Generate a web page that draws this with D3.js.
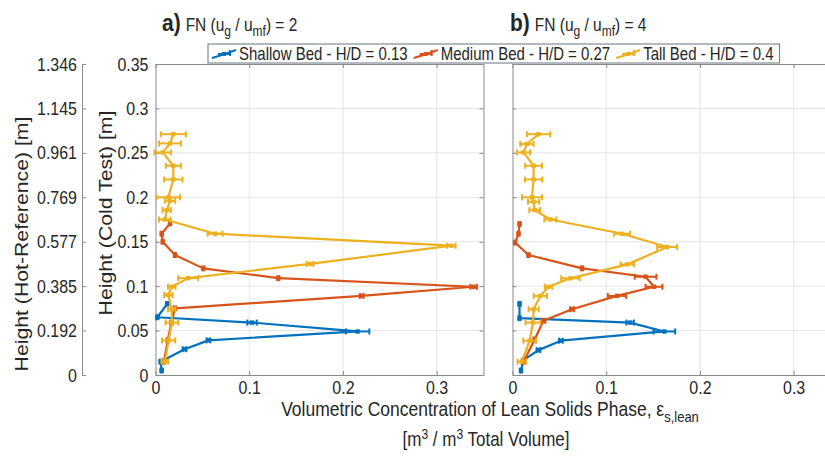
<!DOCTYPE html>
<html><head><meta charset="utf-8">
<script src="https://cdn.jsdelivr.net/npm/d3@7"></script>
<style>body{margin:0;background:#fff}svg{display:block;font-family:"Liberation Sans",Arial,sans-serif}</style>
</head><body><svg id="c" width="825" height="459"></svg>
<script>
// ---- data ----
const coldTicks = [0, 0.05, 0.1, 0.15, 0.2, 0.25, 0.3, 0.35];
const coldTickLabels = ["0", "0.05", "0.1", "0.15", "0.2", "0.25", "0.3", "0.35"];
const hotTickLabels = ["0", "0.192", "0.385", "0.577", "0.769", "0.961", "1.145", "1.346"];
const xTicks = [0, 0.1, 0.2, 0.3];
const xTickLabels = ["0", "0.1", "0.2", "0.3"];
const seriesNames = ["Shallow Bed - H/D = 0.13", "Medium Bed - H/D = 0.27", "Tall Bed - H/D = 0.4"];
const seriesColors = ["#0072BD", "#D95319", "#EDB120"];

// Panel a) FN = 2
const shallowA_h = [0.080, 0.065, 0.059, 0.049, 0.039, 0.029, 0.015, 0.005];
const shallowA_x = [0.0125, 0.002, 0.103, 0.2157, 0.0565, 0.031, 0.0055, 0.0065];
const shallowA_e = [0.001, 0.001, 0.005, 0.0125, 0.002, 0.002, 0.001, 0.001];
const mediumA_h = [0.1706, 0.159, 0.150, 0.135, 0.120, 0.109, 0.0993, 0.089, 0.075, 0.059, 0.039, 0.015];
const mediumA_x = [0.0155, 0.0066, 0.0077, 0.0208, 0.051, 0.131, 0.3395, 0.220, 0.0208, 0.017, 0.013, 0.009];
const mediumA_e = [0.001, 0.001, 0.001, 0.001, 0.001, 0.001, 0.0035, 0.002, 0.001, 0.001, 0.001, 0.001];
const tallA_h = [0.271, 0.2606, 0.2505, 0.2355, 0.220, 0.200, 0.196, 0.1856, 0.175, 0.159, 0.1455, 0.125, 0.109, 0.0993, 0.090, 0.074, 0.059, 0.039, 0.015];
const tallA_x = [0.019, 0.0155, 0.0077, 0.019, 0.019, 0.0137, 0.0155, 0.012, 0.010, 0.0636, 0.3157, 0.165, 0.035, 0.0173, 0.0137, 0.0173, 0.0175, 0.014, 0.010];
const tallA_e = [0.0134, 0.0116, 0.0089, 0.008, 0.0098, 0.0125, 0.0055, 0.0045, 0.0062, 0.008, 0.0045, 0.0036, 0.0107, 0.004, 0.0045, 0.004, 0.0068, 0.0071, 0.0036];

// Panel b) FN = 4
const shallowB_h = [0.080, 0.064, 0.059, 0.049, 0.0386, 0.028, 0.017, 0.005];
const shallowB_x = [0.0075, 0.0075, 0.1255, 0.162, 0.0516, 0.0277, 0.012, 0.009];
const shallowB_e = [0.001, 0.001, 0.004, 0.0116, 0.002, 0.002, 0.001, 0.001];
const mediumB_h = [0.170, 0.159, 0.149, 0.135, 0.120, 0.1106, 0.0993, 0.089, 0.074, 0.061, 0.040, 0.015];
const mediumB_x = [0.0075, 0.0064, 0.0029, 0.0171, 0.0743, 0.142, 0.151, 0.1115, 0.0635, 0.033, 0.0236, 0.0118];
const mediumB_e = [0.001, 0.001, 0.001, 0.001, 0.001, 0.0116, 0.009, 0.0098, 0.002, 0.002, 0.001, 0.002];
const tallB_h = [0.271, 0.260, 0.2505, 0.2355, 0.220, 0.200, 0.195, 0.1856, 0.175, 0.159, 0.144, 0.1245, 0.1088, 0.0993, 0.089, 0.074, 0.059, 0.0386, 0.015];
const tallB_x = [0.0278, 0.0154, 0.0118, 0.0225, 0.0225, 0.0208, 0.0225, 0.0236, 0.0404, 0.117, 0.165, 0.1225, 0.0618, 0.0385, 0.0297, 0.0226, 0.0219, 0.0183, 0.010];
const tallB_e = [0.0125, 0.0071, 0.0071, 0.009, 0.0093, 0.0107, 0.006, 0.0057, 0.0064, 0.0086, 0.0107, 0.0071, 0.0098, 0.004, 0.0071, 0.0054, 0.008, 0.0068, 0.0046];

// ---- layout ----
const svg = d3.select("#c");
const axisCol = "#8a8a8a", textCol = "#262626", gridCol = "#e6e6e6";
const STRETCH = 1.18; // the reference text is slightly taller than wide
const y = d3.scaleLinear().domain([0, 0.35]).range([375, 64]);
const panels = [
  {x: d3.scaleLinear().domain([0, 0.35]).range([155.5, 483.5]), labels: true,
   series: [[shallowA_h, shallowA_x, shallowA_e], [mediumA_h, mediumA_x, mediumA_e], [tallA_h, tallA_x, tallA_e]]},
  {x: d3.scaleLinear().domain([0, 0.35]).range([512.5, 840.5]), labels: false,
   series: [[shallowB_h, shallowB_x, shallowB_e], [mediumB_h, mediumB_x, mediumB_e], [tallB_h, tallB_x, tallB_e]]}
];

function styleAxis(g) {
  g.selectAll("path,line").attr("stroke", axisCol).attr("stroke-width", 1);
  g.selectAll("text").attr("fill", textCol).attr("font-size", 16)
    .attr("font-family", "Liberation Sans, Arial, sans-serif")
    .attr("transform", `scale(1,${STRETCH})`);
}
// a group positioned at (x,y) with vertical stretch, optional rotation
function textGroup(x, yy, rot) {
  return svg.append("g").attr("transform", `translate(${x},${yy}) scale(1,${STRETCH})` + (rot ? ` rotate(${rot})` : ""));
}

panels.forEach(p => {
  const [x0, x1] = p.x.range();
  const grid = svg.append("g");
  grid.selectAll(".gx").data(xTicks.slice(1)).join("line")
    .attr("x1", d => p.x(d)).attr("x2", d => p.x(d)).attr("y1", y(0)).attr("y2", y(0.35))
    .attr("stroke", gridCol).attr("stroke-width", 1);
  grid.selectAll(".gy").data(coldTicks.slice(1, -1)).join("line")
    .attr("x1", x0).attr("x2", x1).attr("y1", d => y(d)).attr("y2", d => y(d))
    .attr("stroke", gridCol).attr("stroke-width", 1);

  svg.append("g").attr("transform", `translate(${x0},0)`)
    .call(d3.axisLeft(y).tickValues(coldTicks).tickSizeInner(-4).tickSizeOuter(0).tickPadding(7)
      .tickFormat((d, i) => p.labels ? coldTickLabels[i] : ""))
    .call(styleAxis);
  svg.append("g").attr("transform", `translate(${x1},0)`)
    .call(d3.axisRight(y).tickValues(coldTicks).tickSizeInner(-4).tickSizeOuter(0).tickFormat(""))
    .call(styleAxis);
  svg.append("g").attr("transform", `translate(0,${y(0)})`)
    .call(d3.axisBottom(p.x).tickValues(xTicks).tickSizeInner(-4).tickSizeOuter(0).tickPadding(5)
      .tickFormat((d, i) => xTickLabels[i]))
    .call(styleAxis);
  svg.append("g").attr("transform", `translate(0,${y(0.35)})`)
    .call(d3.axisTop(p.x).tickValues(xTicks).tickSizeInner(-4).tickSizeOuter(0).tickFormat(""))
    .call(styleAxis);

  p.series.forEach((s, si) => {
    const [hs, xs, es] = s;
    const pts = hs.map((h, i) => ({h, v: xs[i], e: es[i]}));
    const col = seriesColors[si];
    const g = svg.append("g");
    g.append("path").datum(pts)
      .attr("d", d3.line().x(d => p.x(d.v)).y(d => y(d.h)))
      .attr("fill", "none").attr("stroke", col).attr("stroke-width", 2.2).attr("stroke-linejoin", "round");
    const eb = g.selectAll(".eb").data(pts).join("g");
    eb.append("line").attr("x1", d => p.x(d.v - d.e)).attr("x2", d => p.x(d.v + d.e))
      .attr("y1", d => y(d.h)).attr("y2", d => y(d.h)).attr("stroke", col).attr("stroke-width", 2);
    eb.append("line").attr("x1", d => p.x(d.v - d.e)).attr("x2", d => p.x(d.v - d.e))
      .attr("y1", d => y(d.h) - 3).attr("y2", d => y(d.h) + 3).attr("stroke", col).attr("stroke-width", 2);
    eb.append("line").attr("x1", d => p.x(d.v + d.e)).attr("x2", d => p.x(d.v + d.e))
      .attr("y1", d => y(d.h) - 3).attr("y2", d => y(d.h) + 3).attr("stroke", col).attr("stroke-width", 2);
    eb.append("rect").attr("x", d => p.x(d.v) - 2.2).attr("y", d => y(d.h) - 2.2)
      .attr("width", 4.4).attr("height", 4.4).attr("fill", col);
  });
});

// outer hot-reference axis
svg.append("g").attr("transform", "translate(82,0)")
  .call(d3.axisLeft(y).tickValues(coldTicks).tickSizeInner(-4).tickSizeOuter(0).tickPadding(5)
    .tickFormat((d, i) => hotTickLabels[i]))
  .call(styleAxis);

// axis titles
textGroup(28, 244, -90).append("text").attr("text-anchor", "middle")
  .attr("font-size", 18).attr("fill", textCol).text("Height (Hot-Reference) [m]");
textGroup(112, 213, -90).append("text").attr("text-anchor", "middle")
  .attr("font-size", 18).attr("fill", textCol).text("Height (Cold Test) [m]");

const xl1 = textGroup(490, 416).append("text").attr("text-anchor", "middle")
  .attr("font-size", 17.5).attr("fill", textCol);
xl1.append("tspan").text("Volumetric Concentration of Lean Solids Phase, ε");
xl1.append("tspan").attr("font-size", 13).attr("dy", 5).text("s,lean");
const xl2 = textGroup(486, 446).append("text").attr("text-anchor", "middle")
  .attr("font-size", 17).attr("fill", textCol);
xl2.append("tspan").text("[m");
xl2.append("tspan").attr("font-size", 12).attr("dy", -6).text("3");
xl2.append("tspan").attr("dy", 6).text(" / m");
xl2.append("tspan").attr("font-size", 12).attr("dy", -6).text("3");
xl2.append("tspan").attr("dy", 6).text(" Total Volume]");

// panel titles
function title(x, letter, val) {
  const t = textGroup(x, 31).append("text").attr("fill", textCol);
  t.append("tspan").attr("font-size", 21).attr("font-weight", "bold").text(letter);
  t.append("tspan").attr("font-size", 15.5).attr("dx", 5).text("FN (u");
  t.append("tspan").attr("font-size", 12).attr("dy", 4).text("g");
  t.append("tspan").attr("font-size", 15.5).attr("dy", -4).text(" / u");
  t.append("tspan").attr("font-size", 12).attr("dy", 4).text("mf");
  t.append("tspan").attr("font-size", 15.5).attr("dy", -4).text(") = " + val);
}
title(162, "a)", "2");
title(510, "b)", "4");

// legend
const leg = svg.append("g");
const legBox = leg.append("rect").attr("x", 208).attr("y", 44).attr("height", 19)
  .attr("fill", "#fff").attr("stroke", "#6b7480").attr("stroke-width", 1);
let lx = 212;
seriesNames.forEach((name, i) => {
  const col = seriesColors[i];
  const cy = 54;
  leg.append("path").attr("d", `M${lx},${cy + 4} L${lx + 10},${cy + 1} L${lx + 24},${cy - 4}`)
    .attr("stroke", col).attr("stroke-width", 2).attr("fill", "none");
  leg.append("line").attr("x1", lx + 6).attr("x2", lx + 18).attr("y1", cy).attr("y2", cy)
    .attr("stroke", col).attr("stroke-width", 2);
  leg.append("line").attr("x1", lx + 18).attr("x2", lx + 18).attr("y1", cy - 4).attr("y2", cy + 2)
    .attr("stroke", col).attr("stroke-width", 2);
  leg.append("rect").attr("x", lx + 10).attr("y", cy - 2).attr("width", 4).attr("height", 4).attr("fill", col);
  const t = textGroup(lx + 27, 59.5).append("text").attr("font-size", 15)
    .attr("fill", textCol).text(name);
  lx += 27 + t.node().getComputedTextLength() + 6;
});
legBox.attr("width", lx - 208);
</script></body></html>
